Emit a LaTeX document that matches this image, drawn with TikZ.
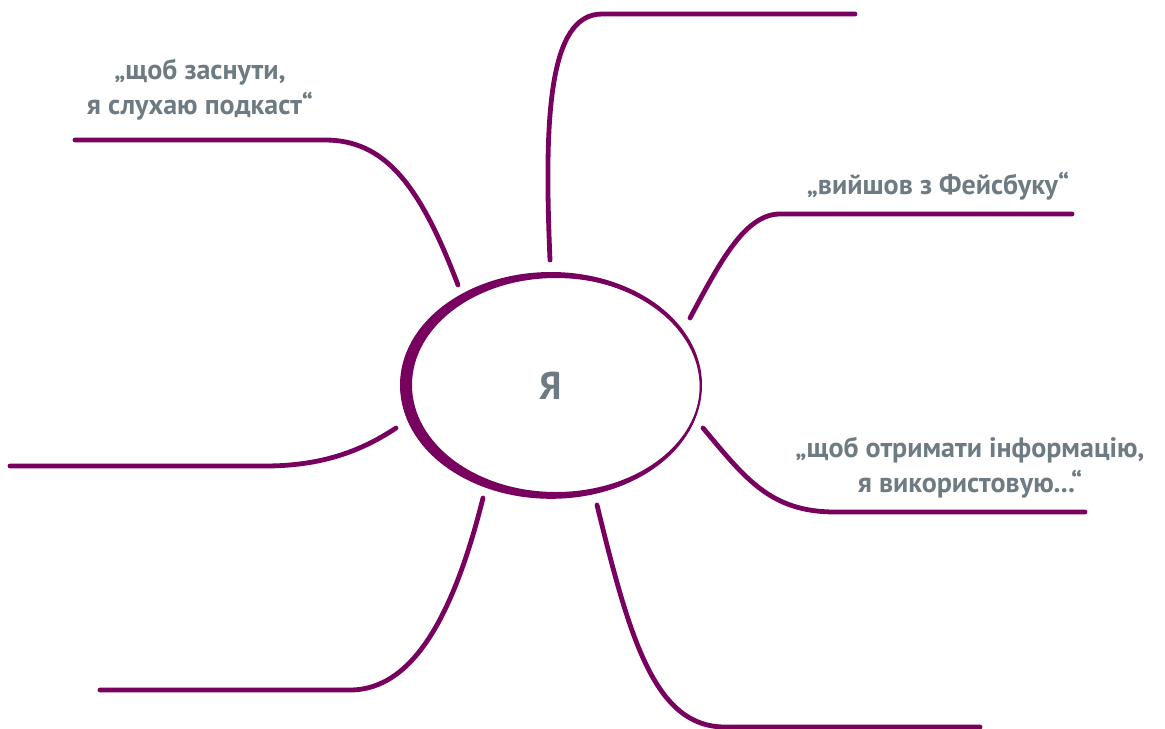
\documentclass[tikz,border=0pt]{standalone}
\usepackage{fontspec}
\setmainfont{PT Sans}
\usetikzlibrary{shapes.geometric}
\definecolor{plum}{RGB}{120,0,94}
\definecolor{slate}{RGB}{110,123,131}
\tikzset{every picture/.style={line width=0.75pt}}
\tikzset{
  branch/.style={draw=plum, line width=3.6pt, line cap=round},
  quote/.style={text=slate, font=\bfseries\fontsize{21}{26}\selectfont, align=center, inner sep=0.75pt},
}

\begin{document}
\begin{tikzpicture}[x=0.75pt,y=0.75pt,yscale=-1,xscale=1]
\useasboundingbox (0,0) rectangle (1165,729);

%Centre ellipse
\node (me) [ellipse, minimum width=226.5pt, minimum height=169.5pt, inner sep=0pt,
  text=slate, font=\bfseries\fontsize{29}{32}\selectfont] at (551,386) {Я};
\fill [plum, even odd rule] (551,385) ellipse [x radius=151, y radius=113]
  (556,385) ellipse [x radius=144, y radius=107];
\draw [plum, line width=1.2pt] (551,387) ellipse [x radius=149.5, y radius=111];

%Free ends
\coordinate (top) at (855,14);
\coordinate (topleft) at (75,140);
\coordinate (rightup) at (1072,214);
\coordinate (rightdown) at (1085,512);
\coordinate (downright) at (980,727);
\coordinate (downleft) at (100,690);
\coordinate (left) at (10,466);

%Curve Lines
\draw [branch] (550,260) .. controls (544,120) and (548,14) .. (602,14) -- (top);
\draw [branch] (458,285) .. controls (420,185) and (385,140) .. (325,140) -- (topleft);
\draw [branch] (690,318) .. controls (720,262) and (745,214) .. (780,214) -- (rightup);
\draw [branch] (703,428) .. controls (745,478) and (770,512) .. (835,512) -- (rightdown);
\draw [branch] (597,505) .. controls (630,640) and (655,727) .. (725,727) -- (downright);
\draw [branch] (483,498) .. controls (455,610) and (415,690) .. (350,690) -- (downleft);
\draw [branch] (396,428) .. controls (360,452) and (320,466) .. (265,466) -- (left);

% Text Node
\node (sleep) [quote] at (200,90) {„щоб заснути,\\я слухаю подкаст“};
\node (fb) [quote] at (938,186) {„вийшов з Фейсбуку“};
\node (info) [quote] at (970,468) {„щоб отримати інформацію,\\я використовую...“};

\end{tikzpicture}
\end{document}
